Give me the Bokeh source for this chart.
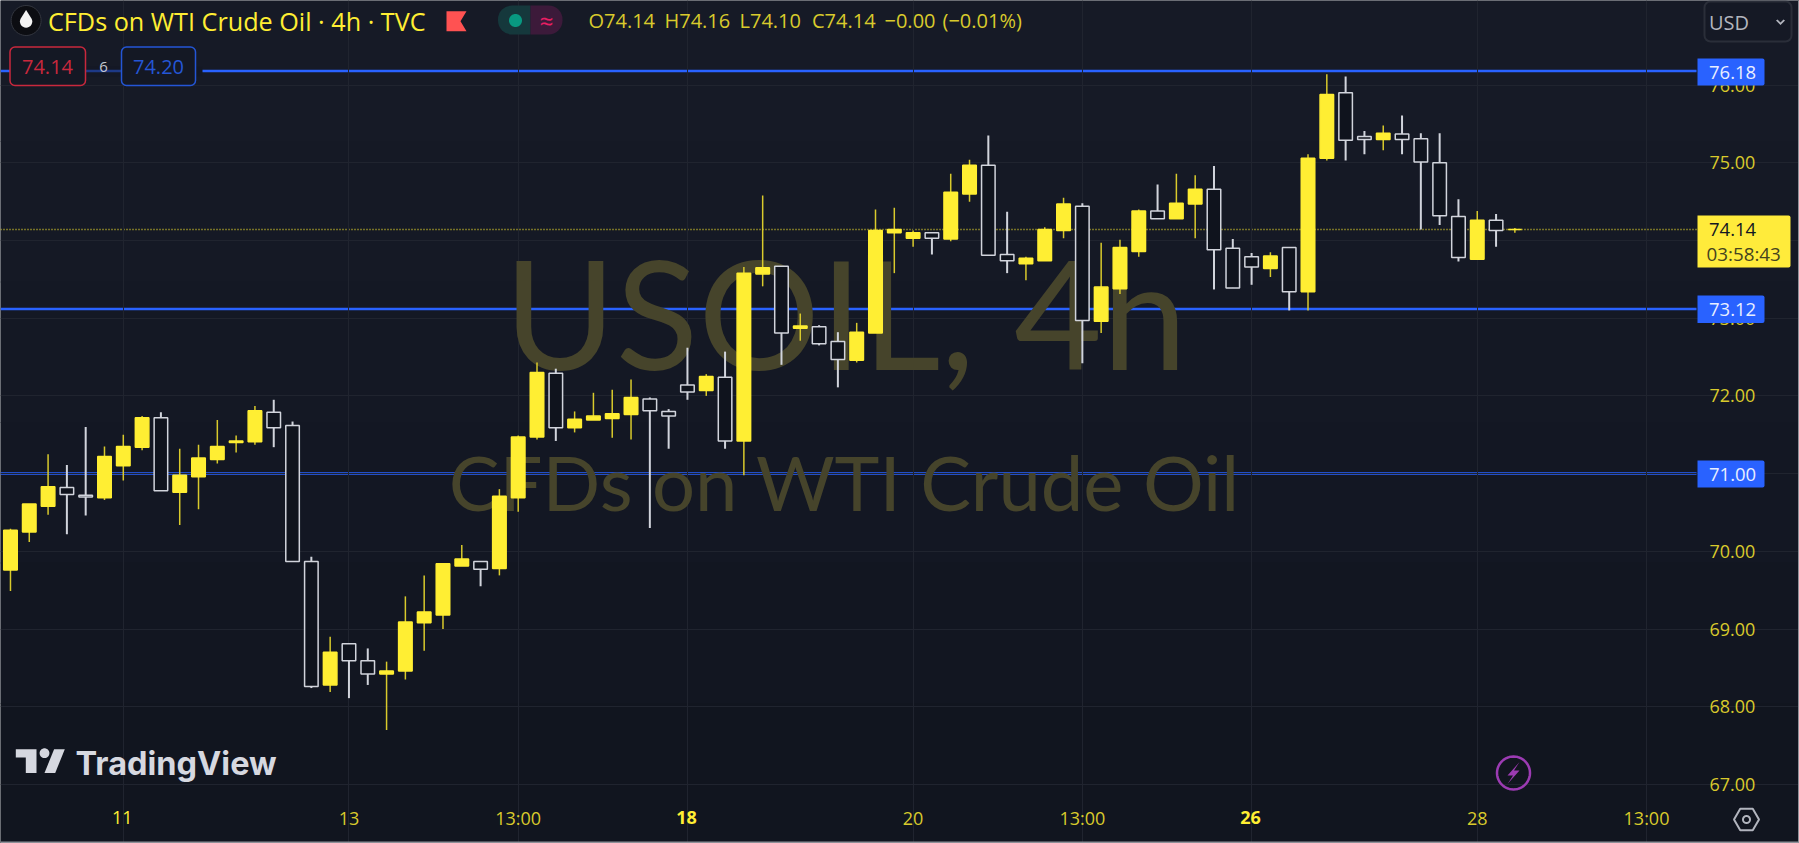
import math
from bokeh.plotting import figure
from bokeh.models import (FixedTicker, PrintfTickFormatter, Label, BoxAnnotation,
                          PolyAnnotation, ColumnDataSource)
from bokeh.embed import file_html
from bokeh.resources import INLINE

# ---- data -----------------------------------------------------------------
bar_index = list(range(-6, 75))
opens = [69.76,70.25,70.58,70.82,70.72,70.69,71.10,71.34,71.72,70.76,70.96,71.18,71.40,71.41,71.79,71.62,
         69.87,68.28,68.81,68.59,68.42,68.46,69.08,69.18,69.81,69.87,69.78,70.69,71.47,72.29,71.59,71.69,
         71.71,71.76,71.96,71.80,72.14,72.07,72.24,71.42,73.57,73.67,72.87,72.89,72.70,72.46,72.81,74.10,
         74.03,74.10,74.02,74.60,74.97,73.82,73.70,73.74,74.13,74.44,72.96,73.38,73.86,74.38,74.28,74.47,
         74.66,73.90,73.79,73.64,73.91,73.34,75.06,75.90,75.34,75.30,75.37,75.31,75.00,74.31,73.76,74.26,74.14]
highs = [70.29,70.61,71.25,71.11,71.60,71.35,71.50,71.74,71.79,71.32,71.37,71.69,71.49,71.87,71.95,71.67,
         69.93,68.90,68.81,68.75,68.58,69.42,69.69,69.84,70.08,69.87,70.80,71.49,72.43,72.35,71.80,72.04,
         72.08,72.21,71.98,71.83,72.62,72.28,72.57,73.66,74.58,73.67,73.06,72.91,72.82,72.94,74.40,74.42,
         74.13,74.10,74.86,75.04,75.35,74.37,73.79,74.17,74.55,74.48,73.97,74.01,74.40,74.72,74.86,74.84,
         74.96,74.02,73.84,73.85,73.91,75.11,76.14,76.11,75.41,75.48,75.61,75.38,75.38,74.53,74.38,74.34,74.16]
lows = [69.49,70.12,70.47,70.22,70.46,70.66,70.91,71.30,71.72,70.34,70.54,71.13,71.27,71.37,71.34,69.87,
        68.24,68.19,68.11,68.28,67.70,68.35,68.72,69.00,69.81,69.55,69.69,70.51,71.44,71.42,71.53,71.69,
        71.46,71.44,70.30,71.32,71.95,72.00,71.32,70.98,73.41,72.40,72.71,72.65,72.11,72.43,72.81,73.58,
        73.92,73.82,73.99,74.50,73.81,73.58,73.49,73.74,74.03,72.42,72.81,73.31,73.79,74.28,74.28,74.03,
        73.37,73.39,73.43,73.53,73.10,73.10,75.03,75.03,75.11,75.16,75.11,74.14,74.20,73.73,73.76,73.92,74.10]
closes = [70.27,70.61,70.83,70.73,70.70,71.22,71.35,71.72,70.78,70.98,71.20,71.35,71.42,71.81,71.59,69.87,
          68.26,68.70,68.59,68.42,68.46,69.09,69.22,69.84,69.90,69.77,70.71,71.47,72.30,71.59,71.70,71.74,
          71.77,71.98,71.81,71.74,72.05,72.25,71.42,73.58,73.65,72.81,72.90,72.67,72.47,72.82,74.13,74.14,
          74.10,74.03,74.62,74.97,73.81,73.74,73.77,74.14,74.47,72.97,73.40,73.91,74.38,74.28,74.48,74.66,
          73.88,73.39,73.66,73.80,73.34,75.06,75.88,75.29,75.30,75.38,75.30,75.01,74.32,73.78,74.26,74.13,74.14]

price_ticks = [67, 68, 69, 70, 71, 72, 73, 74, 75, 76]
time_ticks = [0, 12, 21, 30, 42, 51, 60, 72, 81]
time_labels = ["11", "13", "13:00", "18", "20", "13:00", "26", "28", "13:00"]
time_styles = ["bright", "", "", "bold", "", "", "bold", "", ""]
level_prices = [76.18, 73.12, 71.00]
last_price = 74.14
ohlc_texts = ["O74.14", "H74.16", "L74.10", "C74.14", "−0.00", "(−0.01%)"]

BG = "#141824"
HOLLOW = "#0f131d"
YEL = "#ffee33"
YEL_DIM = "#d9ca2c"
WHITE = "#d1d4dc"
BLUE = "#2962ff"
WM = "#46442b"
FONT = "Open Sans"

W, H = 1799, 843
PANE_R, PANE_B = 1696, 795     # chart pane in reference pixels
BAR_PX, X0_PX = 18.805, 122.8  # horizontal scale
UNIT_PX, Y75_PX = 77.7, 162.3  # vertical scale
x_left, x_right = -X0_PX / BAR_PX, (W - X0_PX) / BAR_PX
y_top, y_bot = 75 + Y75_PX / UNIT_PX, 75 - (H - Y75_PX) / UNIT_PX
x_pane_r = (PANE_R - X0_PX) / BAR_PX
y_pane_b = 75 - (PANE_B - Y75_PX) / UNIT_PX

fx = lambda X: X
fy = lambda Y: H - Y

p = figure(width=W, height=H, output_backend="svg", toolbar_location=None,
           x_range=(x_left, x_right), y_range=(y_bot, y_top),
           y_axis_location="right", background_fill_color=BG, border_fill_color=BG,
           min_border=0, outline_line_color=None)

# axes sit inside the full-size frame so that overlays can cover them
ya, xa = p.yaxis[0], p.xaxis[0]
ya.fixed_location = x_pane_r
xa.fixed_location = y_pane_b
ya.ticker = FixedTicker(ticks=price_ticks)
ya.formatter = PrintfTickFormatter(format="%.2f")
xa.ticker = FixedTicker(ticks=time_ticks)
xa.major_label_overrides = {t: ("" if s else l) for t, l, s in zip(time_ticks, time_labels, time_styles)}
for ax in (xa, ya):
    ax.axis_line_color = None
    ax.major_tick_line_color = None
    ax.minor_tick_line_color = None
    ax.major_tick_out = 0
    ax.major_tick_in = 0
    ax.major_label_text_color = YEL_DIM
    ax.major_label_text_font = FONT
    ax.major_label_text_font_size = "18px"
ya.major_label_standoff = 13
xa.major_label_standoff = 10
p.xgrid.grid_line_color = "#20242f"
p.ygrid.grid_line_color = "#20242f"
p.xgrid.bounds = (y_pane_b, y_top)
p.ygrid.bounds = (x_left, x_pane_r)


def text(X, Y, s, color, size, align="left", style="normal", level="overlay", font=FONT):
    p.add_layout(Label(x=fx(X), y=fy(Y), x_units="screen", y_units="screen", text=s,
                       text_color=color, text_font=font, text_font_size=f"{size}px",
                       text_align=align, text_baseline="middle", text_font_style=style, level=level))


def box(x0, y0, x1, y1, fill=None, line=None, radius=0, lw=1.5, alpha=1.0, level="overlay"):
    p.add_layout(BoxAnnotation(left=fx(x0), right=fx(x1), top=fy(y0), bottom=fy(y1),
                               left_units="screen", right_units="screen",
                               top_units="screen", bottom_units="screen",
                               fill_color=fill, fill_alpha=alpha if fill else 0,
                               line_color=line, line_alpha=1 if line else 0, line_width=lw,
                               border_radius=radius, level=level))


def poly(pts, fill=None, line=None, lw=1.5):
    p.add_layout(PolyAnnotation(xs=[fx(a) for a, _ in pts], ys=[fy(b) for _, b in pts],
                                xs_units="screen", ys_units="screen",
                                fill_color=fill, fill_alpha=1 if fill else 0,
                                line_color=line, line_alpha=1 if line else 0, line_width=lw,
                                level="overlay"))


def ring(cx, cy, r, n=48):
    return [(cx + r * math.cos(2 * math.pi * k / n), cy + r * math.sin(2 * math.pi * k / n)) for k in range(n)]


# page background runs slightly darker towards the bottom
bands = ["#161a26", "#151925", "#141824", "#131723", "#121621", "#11151f"]
for k, col in enumerate(bands):
    box(0, k * H / 6, W, (k + 1) * H / 6 + 1, fill=col, lw=0, level="image")

# watermark (below everything)
text(845, 310, "USOIL, 4h", WM, 152, align="center", level="underlay", font="Lato")
text(844, 481, "CFDs on WTI Crude Oil", WM, 76, align="center", level="underlay", font="Lato")

# price levels, below the candles
p.segment([x_left], [last_price], [x_pane_r], [last_price], line_color=YEL_DIM, line_width=1.5,
          line_dash="1 2", level="underlay")
p.segment([x_left] * 3, level_prices, [x_pane_r] * 3, level_prices, line_color=BLUE, line_width=2.5,
          level="underlay")

# candles
up = [c >= o for o, c in zip(opens, closes)]
src = ColumnDataSource(dict(
    x=bar_index, o=opens, h=highs, l=lows, c=closes,
    top=[max(o, c) for o, c in zip(opens, closes)],
    bot=[min(o, c) for o, c in zip(opens, closes)],
    wick=[YEL_DIM if u else WHITE for u in up],
    wick_w=[1.5 if u else 2 for u in up],
    fill=[YEL if u else HOLLOW for u in up],
    edge=[YEL if u else WHITE for u in up],
))
p.segment("x", "h", "x", "l", source=src, line_color="wick", line_width="wick_w")
p.vbar("x", 0.72, "top", "bot", source=src, fill_color="fill", line_color="edge", line_width=1.5)

# bright / bold time labels
for t, l, s in zip(time_ticks, time_labels, time_styles):
    if s:
        X = X0_PX + BAR_PX * t - 1
        text(X, 817, l, YEL, 18, align="center", style="bold" if s == "bold" else "normal")

# legend row
poly(ring(25.6, 20, 15), fill="#0c0d12", line="#33363f", lw=1)
drop = [(25.6 + 6.2 * math.cos(a * math.pi / 12), 21 + 6.2 * math.sin(a * math.pi / 12)) for a in range(-2, 15)] + [(25.6, 9.5)]
poly(drop, fill="#f4f4f4")
text(47.5, 20, "CFDs on WTI Crude Oil · 4h · TVC", YEL, 25.2)
poly([(446, 10.7), (466, 10.7), (460, 20.7), (466, 30.7), (446, 30.7)], fill="#ff5252")
box(497.5, 5, 530, 34, fill="#15383c", radius=(14, 0, 0, 14), lw=0)
box(530, 5, 562, 34, fill="#3c1a3a", radius=(0, 14, 14, 0), lw=0)
poly(ring(515, 20, 6.5), fill="#089981")
text(546, 20, "≈", "#e91e63", 24, align="center")
for X, s in zip([588, 664, 739, 811.5, 884, 942], ohlc_texts):
    text(X, 20, s, YEL_DIM, 20)

# order boxes on the 76.18 line
box(85, 66, 121, 76, fill=BG, alpha=0.55)
box(195, 66, 202, 76, fill=BG)
box(9.5, 46.5, 85, 85, fill=BG, line="#c9283d", radius=5)
text(47, 66, "74.14", "#c9283d", 20, align="center")
text(103, 66, "6", "#c5c8d0", 15, align="center")
box(121, 46.5, 195, 85, fill=BG, line="#2456d6", radius=5)
text(158, 66, "74.20", "#2456d6", 20, align="center")

# right side price tags
for lv, y0, y1, y_txt in zip(level_prices, [58, 295, 460], [85, 322.5, 487], [71.5, 309, 473.5]):
    box(1697, y0, 1764, y1, fill=BLUE, radius=(0, 2, 2, 0), lw=0)
    text(1708.5, y_txt, f"{lv:.2f}", "#e8eeff", 18.5)
box(1697, 215, 1790, 267, fill="#ffeb3b", radius=(0, 2, 2, 0), lw=0)
text(1708.5, 229, "74.14", "#131722", 18.5)
text(1706, 253, "03:58:43", "#45431f", 18.8)
box(1704, 1, 1791, 41, fill="#151925", line="#2a2e39", radius=6, lw=2)
text(1708.5, 22, "USD", "#b2b5be", 20)
poly([(1775.5, 20), (1777, 19), (1780, 22), (1783, 19), (1784.5, 20), (1780, 24.5)], fill="#b2b5be")

# TradingView logo
poly([(15.3, 748.7), (36, 748.7), (36, 772.5), (25.3, 772.5), (25.3, 757), (15.3, 757)], fill="#d6d8e0")
poly(ring(44, 752.7, 4.9), fill="#d6d8e0")
poly([(53.6, 748.7), (64.3, 748.7), (54.7, 772.5), (44, 772.5)], fill="#d6d8e0")
text(75, 763, "TradingView", "#d6d8e0", 32.5, style="bold", font="Inter")

# lightning button
poly(ring(1513, 772.5, 16.5), line="#9c3bb3", lw=2.5)
poly([(1519, 761.5), (1507, 775), (1512.5, 775), (1507, 783.5), (1519, 770), (1513.5, 770)], fill="#9c3bb3")

# settings icon
poly([(1746 + 12.5 * math.cos(k * math.pi / 3), 819 + 12.5 * math.sin(k * math.pi / 3)) for k in range(6)],
     line="#b2b5be", lw=2)
poly(ring(1746, 819, 3.5), line="#b2b5be", lw=2)

# thin light edge of the screenshot
box(1797.5, 0, 1799, 843, fill="#8e9199", lw=0)
box(0, 841, 1799, 843, fill="#8e9199", lw=0)

open("out.html", "w").write(file_html(p, INLINE))
